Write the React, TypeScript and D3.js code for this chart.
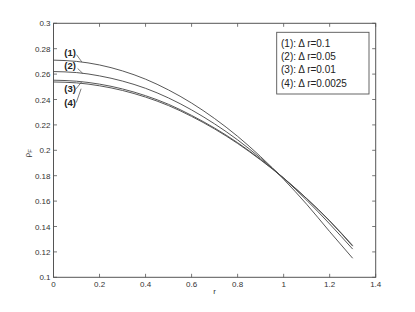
import React from "react";
import * as d3 from "d3";

const rValues = [0, 0.1, 0.2, 0.3, 0.4, 0.5, 0.6, 0.7, 0.8, 0.9, 1.0, 1.1, 1.2, 1.3];
const curve1 = [0.2710, 0.2700, 0.2672, 0.2625, 0.2560, 0.2475, 0.2372, 0.2250, 0.2110, 0.1950, 0.1772, 0.1575, 0.1360, 0.1150];
const curve2 = [0.2620, 0.2612, 0.2586, 0.2545, 0.2488, 0.2412, 0.2318, 0.2208, 0.2082, 0.1938, 0.1780, 0.1607, 0.1420, 0.1222];
const curve3 = [0.2552, 0.2544, 0.2521, 0.2483, 0.2430, 0.2362, 0.2275, 0.2175, 0.2060, 0.1928, 0.1782, 0.1620, 0.1443, 0.1245];
const curve4 = [0.2538, 0.2531, 0.2508, 0.2471, 0.2419, 0.2352, 0.2267, 0.2168, 0.2054, 0.1924, 0.1780, 0.1620, 0.1445, 0.1250];
const seriesList = [curve1, curve2, curve3, curve4];

const xTicks = [0, 0.2, 0.4, 0.6, 0.8, 1, 1.2, 1.4];
const xTickLabels = ["0", "0.2", "0.4", "0.6", "0.8", "1", "1.2", "1.4"];
const yTicks = [0.1, 0.12, 0.14, 0.16, 0.18, 0.2, 0.22, 0.24, 0.26, 0.28, 0.3];
const yTickLabels = ["0.1", "0.12", "0.14", "0.16", "0.18", "0.2", "0.22", "0.24", "0.26", "0.28", "0.3"];

const legendLabels = ["(1): \u0394 r=0.1", "(2): \u0394 r=0.05", "(3): \u0394 r=0.01", "(4): \u0394 r=0.0025"];

// annotations: label text, label position (data), leader start (data), leader end (data)
const annoLabels = ["(1)", "(2)", "(3)", "(4)"];
const annoLabelR = [0.072, 0.072, 0.072, 0.072];
const annoLabelV = [0.2769, 0.2664, 0.2483, 0.2375];
const annoFromR = [0.1, 0.105, 0.095, 0.099];
const annoFromV = [0.2753, 0.2644, 0.2478, 0.2376];
const annoToR = [0.123, 0.127, 0.123, 0.12];
const annoToV = [0.2696, 0.2606, 0.2540, 0.2485];

const W = 415, H = 312;
const left = 53.5, right = 375.7, top = 23.3, bottom = 277.3;

export default function App() {
  const x = d3.scaleLinear().domain([0, 1.4]).range([left, right]);
  const y = d3.scaleLinear().domain([0.1, 0.3]).range([bottom, top]);
  const line = d3
    .line<number>()
    .x((_, i) => x(rValues[i]))
    .y((d) => y(d))
    .curve(d3.curveMonotoneX);
  const axisColor = "#555";
  const tickLen = 3.5;
  const font = "'Liberation Sans', Arial, Helvetica, sans-serif";
  return (
    <div style={{ position: "absolute", left: 0, top: 0 }}>
      <svg width={W} height={H} style={{ display: "block", background: "#fff" }} fontFamily={font}>
        <rect x={0} y={0} width={W} height={H} fill="#fff" />
        {/* frame */}
        <rect x={left} y={top} width={right - left} height={bottom - top} fill="none" stroke={axisColor} strokeWidth={1} />
        {/* x ticks */}
        {xTicks.map((t, i) => (
          <g key={"xt" + i}>
            <line x1={x(t)} x2={x(t)} y1={bottom} y2={bottom - tickLen} stroke={axisColor} strokeWidth={0.8} />
            <line x1={x(t)} x2={x(t)} y1={top} y2={top + tickLen} stroke={axisColor} strokeWidth={0.8} />
            <text x={x(t)} y={bottom + 10} fontSize={8} fill="#333" textAnchor="middle">
              {xTickLabels[i]}
            </text>
          </g>
        ))}
        {yTicks.map((t, i) => (
          <g key={"yt" + i}>
            <line x1={left} x2={left + tickLen} y1={y(t)} y2={y(t)} stroke={axisColor} strokeWidth={0.8} />
            <line x1={right} x2={right - tickLen} y1={y(t)} y2={y(t)} stroke={axisColor} strokeWidth={0.8} />
            <text x={left - 3} y={y(t) + 3} fontSize={8} fill="#333" textAnchor="end">
              {yTickLabels[i]}
            </text>
          </g>
        ))}
        {/* curves */}
        {seriesList.map((s, i) => (
          <path key={"c" + i} d={line(s) || ""} fill="none" stroke="#444" strokeWidth={0.9} />
        ))}
        {/* annotations */}
        {annoLabels.map((lab, i) => (
          <g key={"a" + i}>
            <text x={x(annoLabelR[i])} y={y(annoLabelV[i]) + 3.5} fontSize={9.5} fontWeight="bold" fill="#222" textAnchor="middle">
              {lab}
            </text>
            <line x1={x(annoFromR[i])} y1={y(annoFromV[i])} x2={x(annoToR[i])} y2={y(annoToV[i])} stroke="#444" strokeWidth={0.7} />
          </g>
        ))}
        {/* legend */}
        <rect x={276.7} y={32.3} width={92.3} height={61.7} fill="#fff" stroke={axisColor} strokeWidth={0.9} />
        {legendLabels.map((l, i) => (
          <text key={"l" + i} x={281} y={46.5 + i * 13.4} fontSize={10} fill="#222">
            {l}
          </text>
        ))}
        {/* axis labels */}
        <text x={(left + right) / 2} y={bottom + 17} fontSize={8} fill="#333" textAnchor="middle">
          r
        </text>
        <text transform={`translate(${30},${(top + bottom) / 2 + 3}) rotate(-90)`} fontSize={8} fill="#333" textAnchor="middle">
          {"\u03C1"}
          <tspan fontSize={6} dy={2}>F</tspan>
        </text>
      </svg>
    </div>
  );
}
